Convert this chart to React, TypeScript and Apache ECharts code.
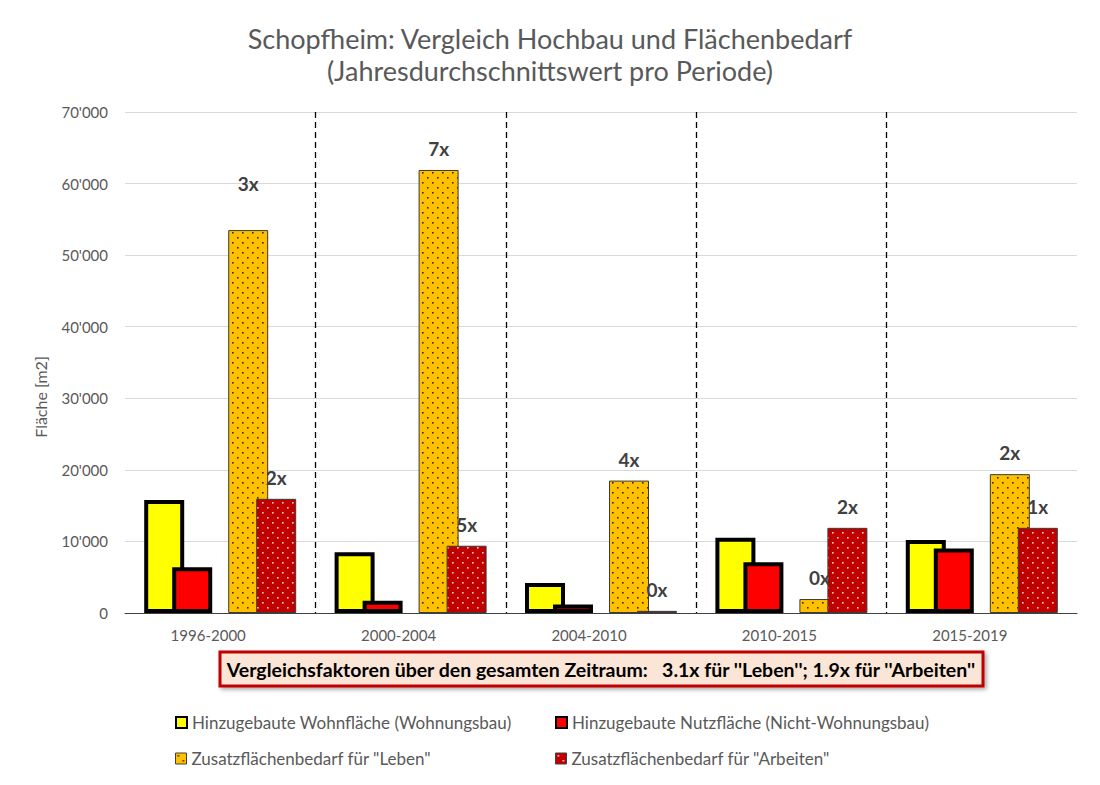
import React, { useEffect, useRef } from 'react';
import * as echarts from 'echarts';

const categories = ['1996-2000', '2000-2004', '2004-2010', '2010-2015', '2015-2019'];
const wohnflaeche = [15800, 8500, 4200, 10500, 10200];
const nutzflaeche = [6400, 1700, 1200, 7100, 9000];
const zusatzLeben = [53500, 61900, 18500, 1950, 19400];
const zusatzArbeiten = [15950, 9400, 300, 11900, 11900];
const faktorLeben = ['3x', '7x', '4x', '0x', '2x'];
const faktorArbeiten = ['2x', '5x', '0x', '2x', '1x'];

const seriesNames = [
  'Hinzugebaute Wohnfläche (Wohnungsbau)',
  'Hinzugebaute Nutzfläche (Nicht-Wohnungsbau)',
  'Zusatzflächenbedarf für "Leben"',
  'Zusatzflächenbedarf für "Arbeiten"',
];

const titleText = 'Schopfheim: Vergleich Hochbau und Flächenbedarf\n(Jahresdurchschnittswert pro Periode)';
const noteText = "Vergleichsfaktoren über den gesamten Zeitraum:   3.1x für ''Leben''; 1.9x für ''Arbeiten''";
const yAxisName = 'Fläche [m2]';

const FONT = 'Lato, "Open Sans", sans-serif';

function makeDots(bg: string, dot: string) {
  const c = document.createElement('canvas');
  c.width = 10;
  c.height = 10;
  const ctx = c.getContext('2d')!;
  ctx.fillStyle = bg;
  ctx.fillRect(0, 0, 10, 10);
  ctx.fillStyle = dot;
  ctx.fillRect(2, 2, 1.6, 1.6);
  ctx.fillRect(7, 7, 1.6, 1.6);
  return c;
}

function fmt(v: number) {
  return String(v).replace(/\B(?=(\d{3})+(?!\d))/g, "'");
}

export default function App() {
  const ref = useRef<HTMLDivElement>(null);
  useEffect(() => {
    if (!ref.current) return;
    const chart = echarts.init(ref.current, null, { renderer: 'svg' });
    const orangePat = { image: makeDots('#ffc000', '#3a2a00'), repeat: 'repeat' };
    const redPat = { image: makeDots('#c00000', '#ffd0d0'), repeat: 'repeat' };

    const labelBase = {
      show: true,
      position: 'top',
      distance: 12,
      fontSize: 19,
      fontWeight: 'bold',
      color: '#404040',
      fontFamily: FONT,
    };

    const common = { type: 'bar', barWidth: 40, barGap: '-30%' };

    const legendCommon = {
      icon: 'rect',
      itemWidth: 11,
      itemHeight: 11,
      selectedMode: false,
      padding: 0,
      textStyle: { color: '#595959', fontSize: 17, fontFamily: FONT },
    };

    chart.setOption({
      animation: false,
      backgroundColor: '#ffffff',
      grid: { left: 125, right: 23, top: 112, bottom: 172, containLabel: false },
      legend: [
        { ...legendCommon, data: [seriesNames[0]], left: 175, top: 714, itemStyle: { borderWidth: 2, borderColor: '#000' } },
        { ...legendCommon, data: [seriesNames[1]], left: 555, top: 714, itemStyle: { borderWidth: 2, borderColor: '#000' } },
        { ...legendCommon, data: [seriesNames[2]], left: 175, top: 750, itemStyle: { borderWidth: 1, borderColor: '#404040' } },
        { ...legendCommon, data: [seriesNames[3]], left: 555, top: 750, itemStyle: { borderWidth: 1, borderColor: '#404040' } },
      ],
      xAxis: {
        type: 'category',
        data: categories,
        axisLine: { show: true, lineStyle: { color: '#404040', width: 1 } },
        axisTick: { show: false },
        axisLabel: {
          color: '#595959',
          fontSize: 15,
          fontFamily: FONT,
          margin: 14,
          padding: [0, 24, 0, 0],
        },
        splitLine: {
          show: true,
          showMinLine: false,
          showMaxLine: false,
          lineStyle: { color: '#000', width: 1.3, type: [6, 4] },
        },
      },
      yAxis: {
        type: 'value',
        min: 0,
        max: 70000,
        interval: 10000,
        axisLine: { show: false },
        axisTick: { show: false },
        axisLabel: {
          color: '#595959',
          fontSize: 15,
          fontFamily: FONT,
          margin: 17,
          formatter: (v: number) => fmt(v),
        },
        splitLine: { show: true, lineStyle: { color: '#d9d9d9', width: 1 } },
      },
      series: [
        {
          ...common,
          name: seriesNames[0],
          data: wohnflaeche,
          itemStyle: { color: '#ffff00', borderColor: '#000', borderWidth: 4 },
        },
        {
          ...common,
          name: seriesNames[1],
          data: nutzflaeche,
          itemStyle: { color: '#ff0000', borderColor: '#000', borderWidth: 4 },
        },
        {
          ...common,
          name: 'spacer',
          data: categories.map(() => '-'),
          itemStyle: { color: 'transparent' },
          silent: true,
        },
        {
          ...common,
          name: seriesNames[2],
          data: zusatzLeben.map((v, i) => (i === 0 ? { value: v, label: { offset: [0, -25] } } : v)),
          itemStyle: { color: orangePat, borderColor: '#3a3a3a', borderWidth: 1 },
          label: { ...labelBase, formatter: (p: any) => faktorLeben[p.dataIndex] },
        },
        {
          ...common,
          name: seriesNames[3],
          data: zusatzArbeiten,
          itemStyle: { color: redPat, borderColor: '#3a3a3a', borderWidth: 1 },
          label: { ...labelBase, formatter: (p: any) => faktorArbeiten[p.dataIndex] },
        },
      ],
      graphic: [
        {
          type: 'text',
          x: 550,
          y: 22,
          style: {
            text: titleText,
            fill: '#595959',
            font: `27px ${FONT}`,
            lineHeight: 32,
            align: 'center',
            verticalAlign: 'top',
          },
        },
        {
          type: 'text',
          x: 40,
          y: 397,
          rotation: Math.PI / 2,
          style: {
            text: yAxisName,
            fill: '#595959',
            font: `16px ${FONT}`,
            align: 'center',
            verticalAlign: 'middle',
          },
        },
        {
          type: 'rect',
          shape: { x: 220, y: 652, width: 763, height: 34 },
          style: {
            fill: '#fbe5d6',
            stroke: '#c00000',
            lineWidth: 3,
            shadowBlur: 4,
            shadowOffsetX: 2,
            shadowOffsetY: 2,
            shadowColor: 'rgba(0,0,0,0.35)',
          },
        },
        {
          type: 'text',
          x: 601,
          y: 669,
          style: {
            text: noteText,
            fill: '#000',
            font: `bold 19.5px ${FONT}`,
            align: 'center',
            verticalAlign: 'middle',
          },
        },
      ],
    });
    return () => chart.dispose();
  }, []);
  return <div ref={ref} style={{ width: 1100, height: 785, position: 'absolute', left: 0, top: 0 }} />;
}
